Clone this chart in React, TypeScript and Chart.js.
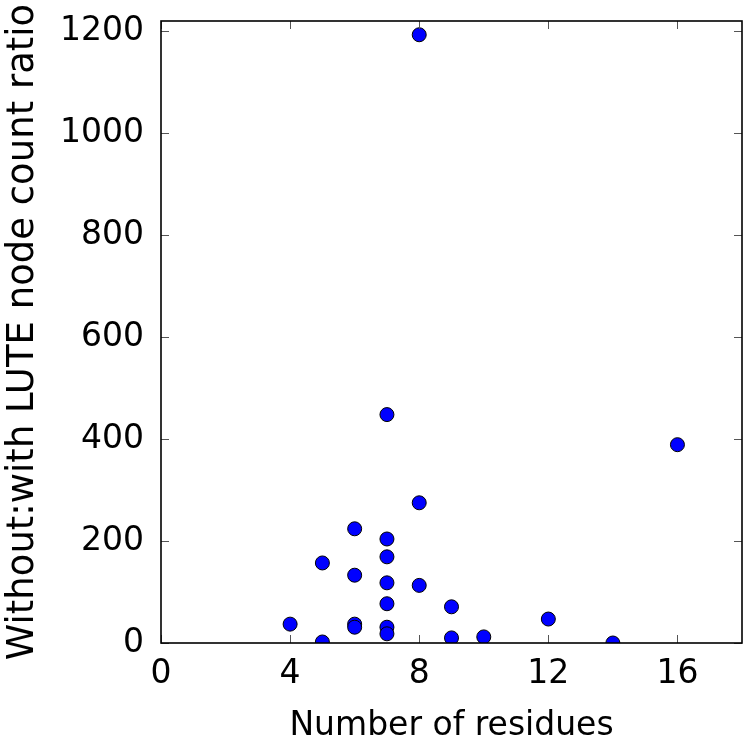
import React, { useEffect, useRef } from "react";
import { Chart, registerables } from "chart.js";
Chart.register(...registerables);

const residues = [4, 5, 5, 6, 6, 6, 6, 7, 7, 7, 7, 7, 7, 7, 8, 8, 8, 9, 9, 10, 12, 14, 16];
const ratios = [37, 157, 2, 224, 133, 37, 31, 448, 204, 169, 118, 77, 31, 18, 1193, 275, 113, 71, 10, 12, 47, 0, 389];
const xTicks = [0, 4, 8, 12, 16];
const yTicks = [0, 200, 400, 600, 800, 1000, 1200];
const xTitle = "Number of residues";
const yTitle = "Without:with LUTE node count ratio";
const X_MIN = 0, X_MAX = 18, Y_MIN = 0, Y_MAX = 1220;
const FONT = "'DejaVu Sans', sans-serif";

const framePlugin = {
  id: "frame",
  afterDraw(chart: any) {
    const { ctx, chartArea: a, scales } = chart;
    ctx.save();
    ctx.strokeStyle = "#555";
    ctx.lineWidth = 1;
    const tl = 8;
    ctx.beginPath();
    for (const v of xTicks) {
      const x = Math.round(scales.x.getPixelForValue(v)) + 0.5;
      ctx.moveTo(x, a.bottom); ctx.lineTo(x, a.bottom - tl);
      ctx.moveTo(x, a.top); ctx.lineTo(x, a.top + tl);
    }
    for (const v of yTicks) {
      const y = Math.round(scales.y.getPixelForValue(v)) + 0.5;
      ctx.moveTo(a.left, y); ctx.lineTo(a.left + tl, y);
      ctx.moveTo(a.right, y); ctx.lineTo(a.right - tl, y);
    }
    ctx.stroke();
    ctx.strokeStyle = "#000";
    ctx.lineWidth = 1.6;
    ctx.strokeRect(a.left, a.top, a.right - a.left, a.bottom - a.top);

    ctx.fillStyle = "#000";
    ctx.textBaseline = "alphabetic";
    ctx.textAlign = "center";
    ctx.font = `33px ${FONT}`;
    ctx.fillText(xTitle, (a.left + a.right) / 2, 735);
    ctx.translate(33, (a.top + a.bottom) / 2);
    ctx.rotate(-Math.PI / 2);
    ctx.font = `37px ${FONT}`;
    ctx.fillText(yTitle, 0, 0);
    ctx.restore();
  },
};

export default function App() {
  const ref = useRef<HTMLCanvasElement>(null);
  useEffect(() => {
    const data = residues.map((x, i) => ({ x, y: ratios[i] }));
    const chart = new Chart(ref.current!, {
      type: "scatter",
      data: {
        datasets: [{
          data,
          backgroundColor: "#0000ff",
          borderColor: "#000000",
          borderWidth: 1,
          pointRadius: 7,
          clip: 0,
        } as any],
      },
      options: {
        animation: false,
        responsive: true,
        maintainAspectRatio: false,
        layout: { padding: { top: 21, right: 5, left: 0, bottom: 0 } },
        plugins: { legend: { display: false }, tooltip: { enabled: false } },
        scales: {
          x: {
            type: "linear", min: X_MIN, max: X_MAX,
            grid: { display: false, drawTicks: false },
            border: { display: false },
            afterFit: (s: any) => { s.height = 97; s.paddingLeft = 0; s.paddingRight = 0; },
            afterBuildTicks: (s: any) => { s.ticks = xTicks.map((v) => ({ value: v })); },
            ticks: { color: "#000", font: { family: FONT, size: 33 }, padding: 12, maxRotation: 0, callback: (v: any) => String(v) },
          },
          y: {
            type: "linear", min: Y_MIN, max: Y_MAX,
            grid: { display: false, drawTicks: false },
            border: { display: false },
            afterFit: (s: any) => { s.width = 161; s.paddingTop = 0; s.paddingBottom = 0; },
            afterBuildTicks: (s: any) => { s.ticks = yTicks.map((v) => ({ value: v })); },
            ticks: { color: "#000", font: { family: FONT, size: 33 }, padding: 17, callback: (v: any) => String(v) },
          },
        },
      },
      plugins: [framePlugin],
    });
    return () => chart.destroy();
  }, []);
  return (
    <div style={{ position: "fixed", left: 0, top: 0, width: 750, height: 740, background: "#fff" }}>
      <canvas ref={ref} />
    </div>
  );
}
